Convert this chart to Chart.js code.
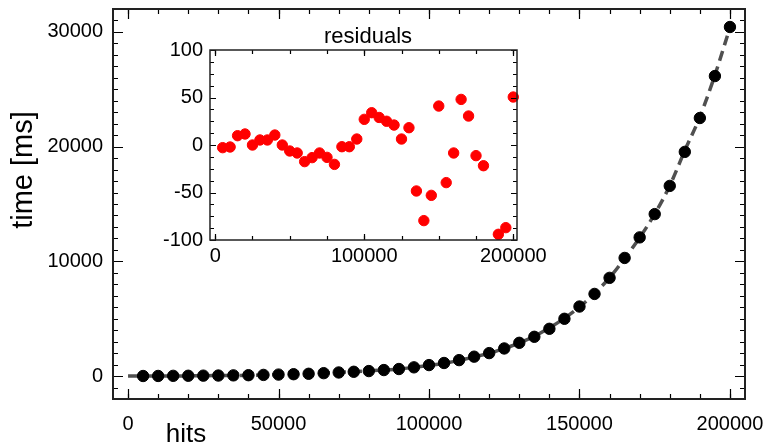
<!DOCTYPE html>
<html>
<head>
<meta charset="utf-8">
<script src="https://cdn.jsdelivr.net/npm/chart.js@4"></script>
<style>
  html, body { margin: 0; padding: 0; background: #fff; }
  #wrap { position: relative; width: 765px; height: 444px; }
  #main-chart { position: absolute; left: 0; top: 0; }
  #inset-chart { position: absolute; left: 150px; top: 15px; }
</style>
</head>
<body>
<div id="wrap">
  <canvas id="main-chart" width="765" height="444"></canvas>
  <canvas id="inset-chart" width="410" height="260"></canvas>
</div>
<script>
// measured points
const hits = [5000, 10000, 15000, 20000, 25000, 30000, 35000, 40000, 45000, 50000,
  55000, 60000, 65000, 70000, 75000, 80000, 85000, 90000, 95000, 100000,
  105000, 110000, 115000, 120000, 125000, 130000, 135000, 140000, 145000, 150000,
  155000, 160000, 165000, 170000, 175000, 180000, 185000, 190000, 195000, 200000];
const timeMs = [5, 10, 20, 26, 35, 45, 60, 76, 100, 129,
  162, 198, 252, 312, 372, 435, 523, 613, 761, 957,
  1139, 1389, 1690, 2001, 2406, 2898, 3422, 4120, 4992, 6061,
  7160, 8562, 10298, 12090, 14119, 16578, 19545, 22496, 26153, 30430];

// fitted curve (dashed)
const fitHits = [0, 5000, 10000, 15000, 20000, 25000, 30000, 35000, 40000, 45000, 50000,
  55000, 60000, 65000, 70000, 75000, 80000, 85000, 90000, 95000, 100000,
  105000, 110000, 115000, 120000, 125000, 130000, 135000, 140000, 145000, 150000,
  155000, 160000, 165000, 170000, 175000, 180000, 185000, 190000, 195000, 200000];
const fitMs = [0, 8, 12, 10, 14, 35, 40, 55, 65, 100, 135,
  170, 215, 265, 320, 385, 455, 525, 615, 755, 930,
  1105, 1360, 1665, 1980, 2400, 2880, 3470, 4200, 5045, 6020,
  7200, 8570, 10250, 12060, 14130, 16600, 19660, 22590, 26240, 30380];

// residuals (inset), 185000 falls below the axis
const residuals = [-2.8, -2.1, 9.8, 11.6, 0, 5.3, 5.3, 10.5, 0, -6.3,
  -8.4, -17.5, -13.3, -8.4, -13, -20.4, -1.8, -1.8, 6.3, 27,
  34, 29, 25, 21, 6.3, 18.2, -48.4, -79.6, -53, 41,
  -39.6, -8.4, 48, 30.5, -11.2, -21.8, -115, -94, -87, 50.5];

const mainXTicks = [0, 50000, 100000, 150000, 200000];
const mainYTicks = [0, 10000, 20000, 30000];
const insetXTicks = [0, 100000, 200000];
const insetYTicks = [-100, -50, 0, 50, 100];

const FONT = "'Liberation Sans', Arial, sans-serif";

function drawTicks(ctx, a, scale, step, len, isX) {
  const start = Math.ceil(scale.min / step) * step;
  ctx.beginPath();
  for (let v = start; v <= scale.max + 1e-6; v += step) {
    const p = Math.round(scale.getPixelForValue(v)) + 0.5;
    if (isX) {
      ctx.moveTo(p, a.bottom); ctx.lineTo(p, a.bottom - len);
      ctx.moveTo(p, a.top); ctx.lineTo(p, a.top + len);
    } else {
      ctx.moveTo(a.left, p); ctx.lineTo(a.left + len, p);
      ctx.moveTo(a.right, p); ctx.lineTo(a.right - len, p);
    }
  }
  ctx.stroke();
}

// frame, inward ticks on all four sides, free-placed titles
const frameTicks = {
  id: 'frameTicks',
  afterDraw(chart, args, o) {
    const { ctx, chartArea: a, scales: { x, y } } = chart;
    ctx.save();
    ctx.strokeStyle = '#000';
    ctx.lineWidth = 1.2;
    drawTicks(ctx, a, x, o.xMinor, o.minor, true);
    drawTicks(ctx, a, x, o.xMajor, o.major, true);
    drawTicks(ctx, a, y, o.yMinor, o.minor, false);
    drawTicks(ctx, a, y, o.yMajor, o.major, false);
    ctx.lineWidth = o.frame;
    ctx.strokeStyle = '#222';
    ctx.strokeRect(a.left, a.top, a.right - a.left, a.bottom - a.top);
    ctx.fillStyle = '#000';
    (o.texts || []).forEach(t => {
      ctx.save();
      ctx.font = t.size + 'px ' + FONT;
      ctx.textAlign = 'center';
      ctx.textBaseline = 'alphabetic';
      ctx.translate(t.x, t.y);
      if (t.rot) ctx.rotate(t.rot);
      ctx.fillText(t.text, 0, 0);
      ctx.restore();
    });
    ctx.restore();
  }
};

function tickSetter(values) {
  return scale => { scale.ticks = values.map(v => ({ value: v })); };
}

// fixed axis box, no extra room for overflowing end labels
function fixHeight(h) {
  return s => { s.height = h; s.paddingLeft = 0; s.paddingRight = 0; };
}
function fixWidth(w) {
  return s => { s.width = w; s.paddingTop = 0; s.paddingBottom = 0; };
}

new Chart(document.getElementById('main-chart'), {
  type: 'scatter',
  data: {
    datasets: [{
      label: 'time',
      data: hits.map((h, i) => ({ x: h, y: timeMs[i] })),
      backgroundColor: '#000',
      borderColor: '#000',
      pointRadius: 5.7,
      pointHoverRadius: 5.7,
      order: 0
    }, {
      label: 'fit',
      data: fitHits.map((h, i) => ({ x: h, y: fitMs[i] })),
      showLine: true,
      borderColor: '#505050',
      borderWidth: 3.5,
      borderDash: [10, 6],
      pointRadius: 0,
      cubicInterpolationMode: 'monotone',
      order: 1
    }]
  },
  options: {
    responsive: false,
    animation: false,
    layout: { padding: { top: 9, right: 20, left: 0, bottom: 0 } },
    scales: {
      x: {
        type: 'linear',
        min: -5000,
        max: 205000,
        afterBuildTicks: tickSetter(mainXTicks),
        afterFit: fixHeight(45),
        grid: { display: false, drawTicks: false },
        border: { display: false },
        ticks: {
          padding: 13,
          autoSkip: false,
          maxRotation: 0,
          color: '#000',
          font: { family: FONT, size: 20 },
          callback: v => String(v)
        }
      },
      y: {
        type: 'linear',
        min: -2000,
        max: 32000,
        afterBuildTicks: tickSetter(mainYTicks),
        afterFit: fixWidth(113),
        grid: { display: false, drawTicks: false },
        border: { display: false },
        ticks: {
          padding: 10,
          autoSkip: false,
          color: '#000',
          font: { family: FONT, size: 20 },
          callback: v => String(v)
        }
      }
    },
    plugins: {
      legend: { display: false },
      tooltip: { enabled: false },
      frameTicks: {
        xMinor: 10000, xMajor: 50000, yMinor: 1000, yMajor: 10000,
        minor: 5, major: 10, frame: 2,
        texts: [
          { text: 'time [ms]', x: 32, y: 170, rot: -Math.PI / 2, size: 29 },
          { text: 'hits', x: 186, y: 442, size: 26 }
        ]
      }
    }
  },
  plugins: [frameTicks]
});

new Chart(document.getElementById('inset-chart'), {
  type: 'scatter',
  data: {
    datasets: [{
      label: 'residuals',
      data: hits.map((h, i) => ({ x: h, y: residuals[i] })),
      backgroundColor: '#ff0000',
      borderColor: '#ff0000',
      pointRadius: 5.2,
      pointHoverRadius: 5.2,
      clip: 8
    }]
  },
  options: {
    responsive: false,
    animation: false,
    layout: { padding: { top: 35, right: 43, left: 0, bottom: 0 } },
    scales: {
      x: {
        type: 'linear',
        min: -3500,
        max: 202500,
        afterBuildTicks: tickSetter(insetXTicks),
        afterFit: fixHeight(35),
        grid: { display: false, drawTicks: false },
        border: { display: false },
        ticks: {
          padding: 4,
          autoSkip: false,
          maxRotation: 0,
          color: '#000',
          font: { family: FONT, size: 20 },
          callback: v => String(v)
        }
      },
      y: {
        type: 'linear',
        min: -100,
        max: 100,
        afterBuildTicks: tickSetter(insetYTicks),
        afterFit: fixWidth(60),
        grid: { display: false, drawTicks: false },
        border: { display: false },
        ticks: {
          padding: 7,
          autoSkip: false,
          color: '#000',
          font: { family: FONT, size: 20 },
          callback: v => String(v)
        }
      }
    },
    plugins: {
      legend: { display: false },
      tooltip: { enabled: false },
      frameTicks: {
        xMinor: 25000, xMajor: 100000, yMinor: 12.5, yMajor: 50,
        minor: 4, major: 6, frame: 1.5,
        texts: [
          { text: 'residuals', x: 218, y: 28, size: 22 }
        ]
      }
    }
  },
  plugins: [frameTicks]
});
</script>
</body>
</html>
